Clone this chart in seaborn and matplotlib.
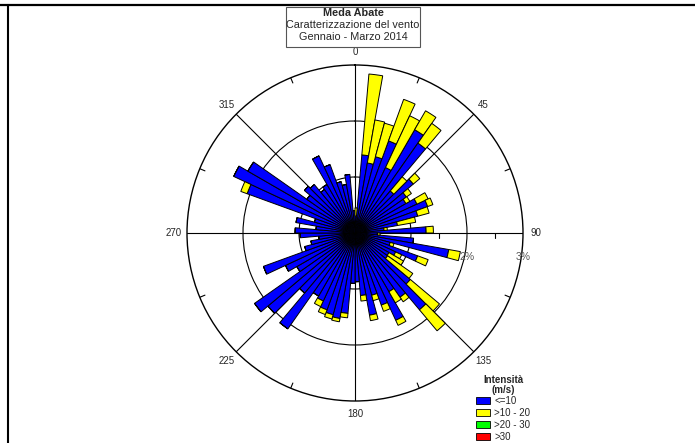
import numpy as np
import pandas as pd
import seaborn as sns
import matplotlib.pyplot as plt
from matplotlib.lines import Line2D
from matplotlib.patches import Rectangle, Patch

# direction bins (centre of each 5 degree sector)
directions = np.arange(2.5, 360, 5)

# frequency (%) for wind speed <= 10 m/s
speed_le10 = [0.30, 1.40, 1.27, 1.41, 1.75, 1.29, 2.13, 1.96, 0.98, 1.36,
              1.12, 1.05, 1.22, 1.38, 1.16, 0.77, 0.52, 1.27, 0.40, 1.05,
              1.70, 0.65, 1.19, 0.80, 0.70, 0.71, 1.29, 1.79, 1.40, 1.21,
              1.72, 1.37, 1.15, 1.49, 1.12, 0.87, 0.90, 1.44, 1.55, 1.51,
              1.46, 1.34, 1.30, 2.09, 1.40, 2.03, 2.19, 1.20, 1.37, 1.74,
              0.93, 0.80, 0.65, 0.98, 1.07, 0.70, 1.07, 0.75, 2.05, 2.39,
              2.21, 1.05, 1.18, 1.13, 0.95, 1.00, 1.52, 1.30, 0.95, 0.88,
              1.05, 0.40]

# frequency (%) for wind speed 10 - 20 m/s
speed_10_20 = [0.15, 1.45, 0.78, 0.62, 0.79, 1.02, 0.39, 0.43, 0.33, 0.15,
               0.11, 0.08, 0.22, 0.10, 0.21, 0.33, 0.06, 0.13, 0.05, 0.00,
               0.21, 0.07, 0.20, 0.12, 0.30, 0.55, 0.68, 0.49, 0.10, 0.23,
               0.10, 0.12, 0.10, 0.10, 0.10, 0.00, 0.00, 0.08, 0.06, 0.08,
               0.09, 0.11, 0.00, 0.00, 0.00, 0.00, 0.00, 0.00, 0.00, 0.00,
               0.00, 0.00, 0.00, 0.00, 0.00, 0.00, 0.00, 0.00, 0.12, 0.00,
               0.00, 0.00, 0.00, 0.00, 0.00, 0.00, 0.00, 0.00, 0.00, 0.00,
               0.00, 0.00]

classes = ["<=10", ">10 - 20", ">20 - 30", ">30"]
class_colors = ["#0000FF", "#FFFF00", "#00FF00", "#FF0000"]

angle_ticks = [0, 45, 90, 135, 180, 225, 270, 315]

df = pd.DataFrame({"dir": directions, "low": speed_le10, "mid": speed_10_20})
df["theta"] = np.deg2rad(df["dir"])

sns.set_style("white")
plt.rcParams['font.family'] = ['Liberation Sans', 'DejaVu Sans']

fig = plt.figure(figsize=(6.95, 4.43), dpi=100)
ax = fig.add_axes([187 / 695, 42 / 443, 336 / 695, 336 / 443], projection='polar')
ax.set_theta_zero_location('N')
ax.set_theta_direction(-1)

width = np.deg2rad(5)
ax.bar(df["theta"], df["low"], width=width, color=class_colors[0],
       edgecolor='black', linewidth=0.7, zorder=3)
ax.bar(df["theta"], df["mid"], width=width, bottom=df["low"], color=class_colors[1],
       edgecolor='black', linewidth=0.7, zorder=3)

ax.set_ylim(0, 3)
ax.set_rgrids([1, 2], labels=['', ''])
ax.set_thetagrids(angle_ticks, labels=[str(a) for a in angle_ticks], fontsize=7)
ax.tick_params(axis='x', pad=-1)
ax.grid(True, color='black', linewidth=0.8)
ax.set_axisbelow(True)
ax.spines['polar'].set_linewidth(1.0)
ax.spines['polar'].set_color('black')

# small ticks on outer circle
for a in [22.5, 67.5, 112.5, 157.5, 202.5, 247.5, 292.5, 337.5]:
    ax.plot([np.deg2rad(a)] * 2, [2.9, 3.0], color='black', lw=0.8, zorder=2)

# small ticks below the east axis
for r in [1.5, 2.5]:
    xs = np.array([r, r])
    ys = np.array([0.0, -0.09])
    ax.plot(np.arctan2(xs, ys), np.hypot(xs, ys), color='black', lw=0.8, zorder=2)

for r in [2, 3]:
    ax.annotate(f"{r}%", xy=(np.pi / 2, r), xytext=(0, -17), textcoords='offset points',
                ha='center', va='center', fontsize=7.5, color='#555555', zorder=5)

# title box
fig.patches.append(Rectangle((286 / 695, 1 - 47 / 443), 134 / 695, 40 / 443,
                             transform=fig.transFigure, fill=False,
                             edgecolor='#555555', linewidth=0.8))
fig.text(353 / 695, 1 - 13.5 / 443, "Meda Abate", ha='center', va='center',
         fontsize=7.8, fontweight='bold')
fig.text(353 / 695, 1 - 25.5 / 443, "Caratterizzazione del vento", ha='center',
         va='center', fontsize=7.8)
fig.text(353 / 695, 1 - 37.5 / 443, "Gennaio - Marzo 2014", ha='center',
         va='center', fontsize=7.8)

# frame lines
fig.lines.append(Line2D([0, 1], [1 - 4.5 / 443] * 2, transform=fig.transFigure,
                        color='black', lw=1.6))
fig.lines.append(Line2D([7.5 / 695] * 2, [0, 1 - 4.5 / 443], transform=fig.transFigure,
                        color='black', lw=1.5))

# legend
fig.text(503 / 695, 1 - 385 / 443, "Intensità\n(m/s)", ha='center', va='center',
         fontsize=7, fontweight='bold', linespacing=1.1)
handles = [Patch(facecolor=c, edgecolor='black', linewidth=0.6) for c in class_colors]
leg = fig.legend(handles, classes, loc='upper left',
                 bbox_to_anchor=(469 / 695, 1 - 389 / 443),
                 fontsize=7, frameon=False,
                 handlelength=1.5, handleheight=0.7, handletextpad=0.4,
                 labelspacing=0.2, borderpad=0.2)

fig.savefig("out.png", dpi=100)
